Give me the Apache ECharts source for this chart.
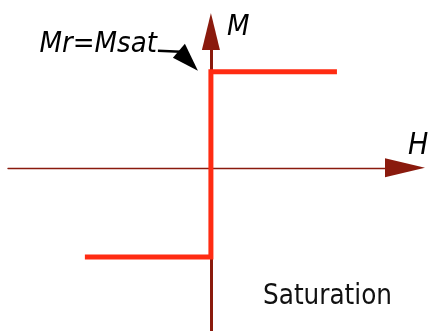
<!DOCTYPE html>
<html>
<head>
<meta charset="utf-8">
<title>Saturation</title>
<script src="https://cdn.jsdelivr.net/npm/echarts@6/dist/echarts.min.js"></script>
<style>
  html, body { margin: 0; padding: 0; background: #fff; }
  #chart { width: 432px; height: 331px; }
</style>
</head>
<body>
<div id="chart"></div>
<script>
// Idealised square loop: field H against magnetisation M
const loopH = [-1, 0, 0, 1];
const loopM = [-0.93, -0.93, 1, 1];

// Visible extent of each axis
const hRange = [-1.61, 1.54];
const mRange = [-1.7, 1.42];

// Text
const axisNames = { h: 'H', m: 'M' };
const remanenceLabel = 'Mr=Msat';
const caption = 'Saturation';

const FONT = "'DejaVu Sans Condensed', 'DejaVu Sans', sans-serif";
const AXIS_DARK = '#8a1a0d';
const LOOP_RED = '#ff2b12';

const chart = echarts.init(document.getElementById('chart'), null, { renderer: 'canvas' });

const option = {
  animation: false,
  backgroundColor: '#ffffff',
  grid: {
    left: 8, right: 27, top: 31.5, bottom: 0,
    containLabel: false,
    outerBoundsMode: 'none'
  },
  xAxis: {
    type: 'value',
    min: hRange[0], max: hRange[1],
    name: axisNames.h,
    nameLocation: 'end',
    nameGap: 0,
    nameTextStyle: {
      fontFamily: FONT, fontStyle: 'italic', fontSize: 30, lineHeight: 30,
      color: '#000', align: 'left', verticalAlign: 'bottom', padding: [0, 0, 7, 3]
    },
    axisLine: {
      onZero: true,
      symbol: ['none', 'triangle'],
      symbolSize: [19, 40],
      lineStyle: { color: AXIS_DARK, width: 1.4 }
    },
    axisTick: { show: false },
    axisLabel: { show: false },
    splitLine: { show: false }
  },
  yAxis: {
    type: 'value',
    min: mRange[0], max: mRange[1],
    name: axisNames.m,
    nameLocation: 'end',
    nameGap: 4,
    nameTextStyle: {
      fontFamily: FONT, fontStyle: 'italic', fontSize: 29, lineHeight: 29,
      color: '#000', align: 'left', verticalAlign: 'middle', padding: [0, 0, 0, 16]
    },
    axisLine: {
      onZero: true,
      symbol: ['none', 'triangle'],
      symbolSize: [18, 37],
      lineStyle: { color: AXIS_DARK, width: 3 }
    },
    axisTick: { show: false },
    axisLabel: { show: false },
    splitLine: { show: false }
  },
  series: [{
    type: 'line',
    data: loopH.map((h, i) => [h, loopM[i]]),
    showSymbol: false,
    symbol: 'none',
    lineStyle: { color: LOOP_RED, width: 5, cap: 'butt', join: 'miter' },
    silent: true,
    z: 3
  }]
};

chart.setOption(option);

// Pointer from the remanence label to the point where the loop crosses the M axis
const corner = chart.convertToPixel({ gridIndex: 0 }, [loopH[2], loopM[2]]);
const tip = [corner[0] - 13, corner[1] - 1];

chart.setOption({
  graphic: [
    {
      type: 'polyline',
      silent: true,
      shape: { points: [[tip[0] - 40, tip[1] - 20], [tip[0] - 17, tip[1] - 19]] },
      style: { stroke: '#000', lineWidth: 2.4, fill: null }
    },
    {
      type: 'polygon',
      silent: true,
      shape: { points: [[tip[0] - 13, tip[1] - 27], [tip[0] - 25, tip[1] - 13], tip] },
      style: { fill: '#000' }
    },
    {
      type: 'text',
      silent: true,
      x: tip[0] - 41,
      y: tip[1] - 41,
      style: {
        text: remanenceLabel,
        font: 'italic 29px ' + FONT,
        fill: '#000',
        align: 'right',
        verticalAlign: 'top'
      }
    },
    {
      type: 'text',
      silent: true,
      right: 40,
      top: 283,
      style: {
        text: caption,
        font: '27.5px ' + FONT,
        fill: '#111'
      }
    }
  ]
});
</script>
</body>
</html>
